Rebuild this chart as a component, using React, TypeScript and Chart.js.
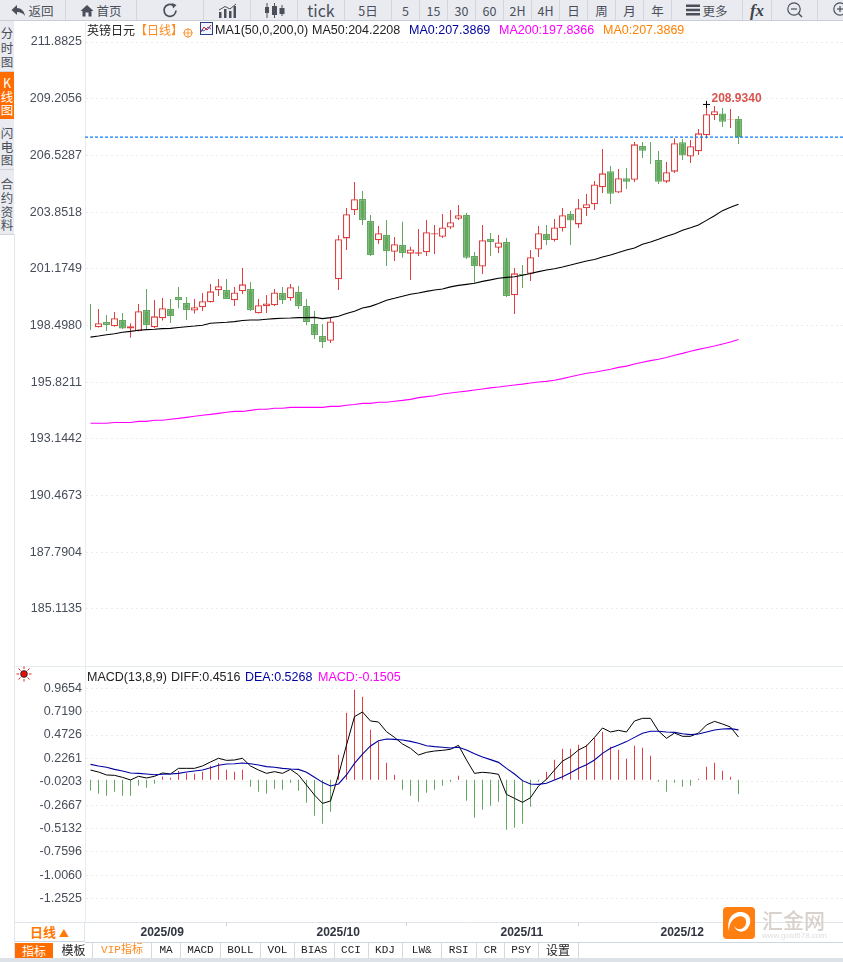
import React, { useEffect, useRef } from "react";
import { Chart, registerables } from "chart.js";

Chart.register(...registerables);

const opens = [198.69,198.41,198.66,198.46,198.76,198.36,198.24,199.23,198.41,198.84,199.28,199.84,199.56,199.2,199.36,199.59,200.16,200.17,199.69,200.11,200.22,199.07,199.4,199.45,200.03,199.78,200.08,199.42,198.57,198,197.78,200.68,202.61,203.94,204.47,203.43,202.52,202.77,201.98,202.3,201.89,201.89,201.95,202.79,202.69,203.12,203.54,203.72,201.78,201.28,202.58,202.17,202.44,199.92,200.93,200.94,202.08,202.82,202.53,203.09,203.76,203.27,204.03,204.22,205.02,205.78,204.78,205.45,205.38,206.97,206.67,206.31,205.29,205.76,207.15,206.48,206.72,207.48,208.42,208.51,208.22,208.25];
const highs = [199.51,199.28,198.99,199.14,199.09,198.6,199.51,200.22,199.7,199.8,199.75,200.32,199.84,199.75,200.03,200.46,200.69,200.69,200.32,201.21,200.55,199.75,199.94,200.22,200.32,200.46,200.36,199.75,199.18,198.57,198.9,202.76,204.05,205.27,204.85,203.72,203.2,203.48,202.68,203.39,202.21,203.05,203.48,203.24,203.76,203.95,204.19,203.81,201.97,203.24,202.87,202.77,202.63,201.21,201.35,202.06,203.2,203.24,203.53,204.05,203.9,204.47,204.71,205.32,206.83,206.03,205.89,205.93,207.16,207.16,207.16,206.74,206.22,207.33,207.3,207.26,207.78,208.934,208.86,208.77,208.72,208.39];
const lows = [198.28,198.4,198.24,198.44,198.33,197.92,198.21,198.33,198.38,198.73,198.62,199.31,198.76,199.06,199.18,199.58,199.89,199.75,199.42,199.98,199.18,199.06,199.09,199.42,199.51,199.67,199.28,198.52,197.86,197.44,197.67,200.17,202.06,203.72,203.24,201.78,202.36,201.31,201.54,201.69,200.65,201.78,201.78,201.87,202.63,203.05,203.48,201.64,200.49,200.93,201.78,201.92,199.84,199.04,200.27,200.6,201.73,202.3,202.46,202.93,202.3,203.1,203.67,203.95,204.75,204.23,204.75,204.94,205.27,206.41,206.12,205.18,205.23,205.7,206.31,206.17,206.55,207.33,208.2,207.87,207.82,207.07];
const closes = [198.68,198.6,198.52,198.84,198.35,198.46,199.17,198.52,198.93,199.31,198.95,199.7,199.23,199.36,199.64,200.11,200.35,199.75,200.06,200.44,199.23,199.45,199.54,200.06,199.7,200.3,199.42,198.66,198.05,197.72,198.69,202.57,203.75,204.46,203.48,201.83,202.85,202.02,202.33,201.92,202.09,201.95,202.9,202.85,203.13,203.37,203.7,201.69,201.31,202.52,202.44,202.42,199.89,200.96,200.87,201.72,202.85,202.53,203.13,203.7,203.45,204.03,204.22,205.16,205.68,204.72,205.45,205.29,207.05,206.75,206.66,205.29,205.73,207.1,206.52,206.96,207.57,208.47,208.61,208.12,208.25,207.3869];
const ma50 = [197.95,198,198.06,198.11,198.18,198.22,198.27,198.3,198.32,198.35,198.36,198.4,198.44,198.47,198.51,198.6,198.63,198.65,198.68,198.73,198.76,198.76,198.79,198.82,198.84,198.85,198.87,198.87,198.88,198.82,198.87,198.93,199.06,199.17,199.32,199.4,199.54,199.69,199.78,199.88,199.97,200.03,200.11,200.17,200.22,200.32,200.39,200.44,200.49,200.58,200.65,200.73,200.77,200.8,200.87,200.95,201.04,201.12,201.18,201.26,201.35,201.45,201.54,201.61,201.73,201.83,201.94,202.06,202.16,202.33,202.44,202.57,202.71,202.83,202.99,203.11,203.24,203.46,203.68,203.92,204.08,204.2208];
const ma200 = [193.88,193.88,193.88,193.92,193.92,193.92,193.97,193.97,194.02,194.02,194.07,194.11,194.16,194.21,194.26,194.3,194.35,194.4,194.44,194.44,194.49,194.54,194.54,194.59,194.59,194.63,194.63,194.63,194.63,194.63,194.68,194.68,194.73,194.77,194.82,194.82,194.87,194.87,194.92,194.96,195.01,195.09,195.14,195.18,195.26,195.31,195.36,195.4,195.45,195.5,195.55,195.59,195.64,195.69,195.73,195.78,195.83,195.86,195.91,195.99,196.08,196.16,196.24,196.29,196.36,196.43,196.52,196.58,196.68,196.76,196.84,196.9,196.99,197.09,197.18,197.28,197.37,197.45,197.53,197.62,197.72,197.8366];
const macdHist = [-0.113,-0.148,-0.169,-0.127,-0.169,-0.169,-0.063,-0.084,-0.042,0.035,0.021,0.092,0.07,0.063,0.084,0.148,0.176,0.106,0.084,0.106,-0.074,-0.127,-0.148,-0.095,-0.106,-0.032,-0.116,-0.243,-0.38,-0.465,-0.338,0.264,0.708,0.95,0.876,0.528,0.401,0.18,0.053,-0.106,-0.169,-0.232,-0.137,-0.106,-0.063,-0.021,0.042,-0.222,-0.401,-0.317,-0.275,-0.232,-0.528,-0.507,-0.465,-0.285,-0.021,0.084,0.211,0.327,0.327,0.37,0.37,0.444,0.507,0.348,0.317,0.222,0.359,0.338,0.253,-0.021,-0.127,-0.032,-0.074,-0.063,0.011,0.137,0.18,0.095,0.032,-0.1505];
const diff = [0.103,0.082,0.051,0.047,0.026,-0.002,0.037,0.019,0.037,0.072,0.061,0.121,0.121,0.121,0.146,0.188,0.227,0.205,0.209,0.227,0.146,0.103,0.068,0.086,0.068,0.11,0.051,-0.055,-0.161,-0.249,-0.224,0.051,0.367,0.667,0.716,0.621,0.61,0.508,0.448,0.378,0.332,0.262,0.29,0.304,0.311,0.322,0.364,0.209,0.068,0.079,0.072,0.058,-0.154,-0.196,-0.238,-0.189,-0.066,0.005,0.103,0.198,0.244,0.315,0.357,0.448,0.547,0.505,0.522,0.505,0.621,0.649,0.649,0.515,0.438,0.494,0.459,0.459,0.494,0.579,0.617,0.589,0.557,0.4516];
const dea = [0.163,0.146,0.132,0.11,0.093,0.072,0.068,0.061,0.054,0.058,0.061,0.068,0.082,0.093,0.103,0.128,0.153,0.167,0.17,0.177,0.17,0.156,0.139,0.132,0.121,0.114,0.11,0.079,0.026,-0.027,-0.066,-0.044,0.051,0.174,0.272,0.357,0.413,0.431,0.427,0.42,0.406,0.385,0.36,0.35,0.343,0.336,0.343,0.315,0.276,0.241,0.213,0.184,0.121,0.061,-0.009,-0.044,-0.048,-0.037,-0.002,0.033,0.075,0.121,0.16,0.209,0.279,0.332,0.367,0.403,0.448,0.491,0.512,0.512,0.505,0.501,0.487,0.477,0.484,0.505,0.526,0.536,0.54,0.5268];

const priceTicks = [211.8825,209.2056,206.5287,203.8518,201.1749,198.498,195.8211,193.1442,190.4673,187.7904,185.1135];
const macdTicks = [0.9654,0.719,0.4726,0.2261,-0.0203,-0.2667,-0.5132,-0.7596,-1.006,-1.2525];
const monthIndexes = [6,28,51,71];
const monthLabels = ["2025/09","2025/10","2025/11","2025/12"];
const lastPrice = 207.3869;
const highestIndex = 77;
const highestValue = 208.934;

const RED = "#df3f3f";
const GREEN = "#62a85e";
const NUM_FONT = '"Liberation Sans", Arial, sans-serif';
const CJK_FONT = '"Noto Sans CJK SC", "Liberation Sans", sans-serif';
const TAB_FONT = '"Liberation Mono", "Noto Sans CJK SC", monospace';
const X_MIN = -0.6875;
const X_MAX = 94.0625;

const pts = (arr: number[]) => arr.map((y, x) => ({ x, y }));

const sharedY = (ticksArr: number[], min: number, max: number) => ({
  type: "linear",
  min,
  max,
  afterFit: (s: any) => { s.width = 85; s.paddingTop = 0; s.paddingBottom = 0; },
  afterBuildTicks: (s: any) => { s.ticks = ticksArr.map((value) => ({ value })); },
  grid: { color: "#ececec", drawTicks: false },
  border: { color: "#e9edf0", dash: [2, 3] },
  ticks: {
    autoSkip: false,
    padding: 3,
    color: "#474d5a",
    font: { family: NUM_FONT, size: 12.5 },
    callback: (v: any) => Number(v).toFixed(4),
  },
});

const topLabelPlugin = {
  id: "highLabel",
  afterDatasetsDraw(chart: any) {
    const { ctx, scales } = chart;
    ctx.save();
    ctx.fillStyle = "#d9534f";
    ctx.font = `bold 12px ${NUM_FONT}`;
    ctx.textAlign = "left";
    ctx.textBaseline = "middle";
    ctx.fillText(highestValue.toFixed(4), scales.x.getPixelForValue(highestIndex) + 5, scales.y.getPixelForValue(highestValue) - 6);
    ctx.restore();
  },
};

type Cell = { l: number; w: number; t?: string; icon?: string };
const toolbar: Cell[] = [
  { l: 0, w: 66, t: "返回", icon: "back" },
  { l: 66, w: 71, t: "首页", icon: "home" },
  { l: 137, w: 67, icon: "refresh" },
  { l: 204, w: 47, icon: "bars" },
  { l: 251, w: 47, icon: "candles" },
  { l: 298, w: 47, t: "tick" },
  { l: 345, w: 47, t: "5日" },
  { l: 392, w: 28, t: "5" },
  { l: 420, w: 28, t: "15" },
  { l: 448, w: 28, t: "30" },
  { l: 476, w: 28, t: "60" },
  { l: 504, w: 28, t: "2H" },
  { l: 532, w: 28, t: "4H" },
  { l: 560, w: 28, t: "日" },
  { l: 588, w: 28, t: "周" },
  { l: 616, w: 28, t: "月" },
  { l: 644, w: 28, t: "年" },
  { l: 672, w: 71, t: "更多", icon: "menu" },
  { l: 743, w: 29, icon: "fx" },
  { l: 772, w: 46, icon: "minus" },
  { l: 818, w: 46, icon: "plus" },
];

const tabs: [number, number, string][] = [
  [55,38,"模板"],[93,59,"VIP指标"],[152,29,"MA"],[181,40,"MACD"],[221,40,"BOLL"],[261,34,"VOL"],[295,39.5,"BIAS"],[334.5,34,"CCI"],[368.5,34,"KDJ"],[402.5,39.5,"LW&"],[442,34.5,"RSI"],[476.5,28.5,"CR"],[505,33.5,"PSY"],[538.5,40,"设置"],
];

const sideItems: { chars: string[]; ys: number[]; orange?: boolean; top: number; h: number }[] = [
  { chars: ["分","时","图"], ys: [33,48,62], top: 21, h: 50 },
  { chars: ["K","线","图"], ys: [83,97,110], orange: true, top: 72, h: 47 },
  { chars: ["闪","电","图"], ys: [133,147,160], top: 121, h: 48 },
  { chars: ["合","约","资","料"], ys: [184,198,212,225], top: 171, h: 63 },
];

const Icon = ({ name }: { name: string }) => {
  const c = "#4a4f59";
  const s = { display: "block" } as React.CSSProperties;
  if (name === "back") return <svg width="15" height="13" style={s}><path d="M6 1 L0.5 6 L6 11 V8 C9 8 12 9 14 12 C13.5 7 10 4 6 4 Z" fill={c}/></svg>;
  if (name === "home") return <svg width="14" height="13" style={s}><path d="M7 1 L0.5 7 H2.5 V12.5 H5.5 V8.5 H8.5 V12.5 H11.5 V7 H13.5 Z" fill={c}/></svg>;
  if (name === "refresh") return <svg width="17" height="17" style={s}><path d="M14 8.5 A6 6 0 1 1 11.5 3.5" fill="none" stroke={c} strokeWidth="1.7"/><path d="M10 1 L14.5 3 L11 6.5 Z" fill={c}/></svg>;
  if (name === "bars") return <svg width="19" height="15" style={s}><path d="M1 9h2.5v6H1zM6 6h2.5v9H6zM11 8h2.5v7H11zM15.5 3H18v12h-2.5z" fill={c}/><path d="M1 7 L7 3.5 L12 6 L18 1" fill="none" stroke={c} strokeWidth="1"/></svg>;
  if (name === "candles") return <svg width="21" height="15" style={s}><path d="M3 0v15M10.5 0v15M18 2v11" stroke={c} strokeWidth="1"/><path d="M1 4h4v6H1zM8 3h5v9H8zM15.500 5h5v6h-5z" fill={c}/></svg>;
  if (name === "menu") return <svg width="14" height="12" style={s}><path d="M0 0.500h14v2.400H0zM0 4.800h14v2.400H0zM0 9.100h14v2.400H0z" fill={c}/></svg>;
  if (name === "fx") return <span style={{ fontFamily: '"Liberation Serif", serif', fontWeight: 700, fontStyle: "italic", fontSize: 17, color: "#3f444d", lineHeight: "17px" }}>fx</span>;
  return (
    <svg width="18" height="18" style={s}>
      <circle cx="8" cy="8" r="6.200" fill="none" stroke={c} strokeWidth="1.200"/>
      <path d="M12.500 12.500 L16 16" stroke={c} strokeWidth="1.400"/>
      <path d="M5 8h6" stroke={c} strokeWidth="1.200"/>
      {name === "plus" && <path d="M8 5v6" stroke={c} strokeWidth="1.200"/>}
    </svg>
  );
};

const Txt = ({ x, y, c, f, size, w, children }: any) => (
  <span style={{ position: "absolute", left: x, top: y, transform: "translateY(-50%)", color: c || "#222", fontFamily: f || NUM_FONT, fontSize: size || 12.5, fontWeight: w || 400, whiteSpace: "nowrap", lineHeight: 1 }}>{children}</span>
);

export default function App() {
  const priceRef = useRef<HTMLCanvasElement>(null);
  const macdRef = useRef<HTMLCanvasElement>(null);

  useEffect(() => {
    const up = closes.map((c, i) => c >= opens[i]);
    const sharedX = { type: "linear", min: X_MIN, max: X_MAX, display: false, offset: false };
    const priceChart = new Chart(priceRef.current as any, {
      type: "bar",
      data: {
        datasets: [
          { type: "line", data: [{ x: X_MIN, y: lastPrice }, { x: X_MAX, y: lastPrice }], borderColor: "#0a7cff", borderWidth: 1.3, borderDash: [3, 2], pointRadius: 0, order: 1 },
          { type: "line", data: pts(ma50), borderColor: "#000", borderWidth: 1.1, pointRadius: 0, tension: 0, order: 2 },
          { type: "line", data: pts(ma200), borderColor: "#ff00ff", borderWidth: 1.1, pointRadius: 0, tension: 0, order: 2 },
          { type: "line", data: [{ x: highestIndex, y: highestValue }], showLine: false, pointStyle: "cross", pointRadius: 3.5, pointBorderColor: "#000", pointBorderWidth: 1, order: 0 },
          { type: "bar", data: opens.map((o, x) => ({ x, y: [o, closes[x]] })), barThickness: 7, grouped: false, borderWidth: 1.3, borderSkipped: false, inflateAmount: 0, borderColor: up.map((u) => (u ? RED : GREEN)), backgroundColor: up.map((u) => (u ? "#fff" : GREEN)), order: 3 },
          { type: "bar", data: lows.map((l, x) => ({ x, y: [l, highs[x]] })), barThickness: 1, grouped: false, borderWidth: 0, inflateAmount: 0, backgroundColor: up.map((u) => (u ? RED : GREEN)), order: 4 },
        ] as any,
      },
      options: {
        responsive: false,
        animation: false,
        events: [],
        layout: { padding: 0, autoPadding: false },
        plugins: { legend: { display: false }, tooltip: { enabled: false } },
        scales: { x: sharedX, y: sharedY(priceTicks, 182.42, 212.827) } as any,
      } as any,
      plugins: [topLabelPlugin],
    });

    const macdChart = new Chart(macdRef.current as any, {
      type: "bar",
      data: {
        datasets: [
          { type: "line", data: pts(diff), borderColor: "#000", borderWidth: 1, pointRadius: 0, tension: 0, order: 1 },
          { type: "line", data: pts(dea), borderColor: "#0000a0", borderWidth: 1.1, pointRadius: 0, tension: 0, order: 0 },
          { type: "bar", data: pts(macdHist), barThickness: 1, grouped: false, borderWidth: 0, inflateAmount: 0, backgroundColor: macdHist.map((v) => (v >= 0 ? RED : GREEN)), order: 2 },
        ] as any,
      },
      options: {
        responsive: false,
        animation: false,
        events: [],
        layout: { padding: 0, autoPadding: false },
        plugins: { legend: { display: false }, tooltip: { enabled: false } },
        scales: {
          x: {
            type: "linear",
            min: X_MIN,
            max: X_MAX,
            offset: false,
            afterFit: (s: any) => { s.height = 20; },
            afterBuildTicks: (s: any) => { s.ticks = monthIndexes.map((value) => ({ value })); },
            grid: { drawOnChartArea: false, drawTicks: true, tickLength: 4, color: "#c9d1d8" },
            border: { color: "#dfe5ea" },
            ticks: {
              autoSkip: false,
              maxRotation: 0,
              align: "start",
              labelOffset: 2,
              padding: -1,
              color: "#2f3440",
              font: { family: NUM_FONT, size: 12, weight: "bold" },
              callback: (v: any) => monthLabels[monthIndexes.indexOf(Number(v))],
            },
          },
          y: sharedY(macdTicks, -1.5016, 1.191),
        } as any,
      } as any,
    });
    return () => {
      priceChart.destroy();
      macdChart.destroy();
    };
  }, []);

  return (
    <div style={{ position: "fixed", left: 0, top: 0, width: 843, height: 962, overflow: "hidden", background: "#fff" }}>
      <canvas ref={priceRef} width={843} height={644} style={{ position: "absolute", left: 0, top: 22, width: 843, height: 644 }} />
      <canvas ref={macdRef} width={843} height={275} style={{ position: "absolute", left: 0, top: 667, width: 843, height: 275 }} />

      {/* top toolbar */}
      <div style={{ position: "absolute", left: 0, top: 0, width: 843, height: 20, background: "#e9ebf1", borderBottom: "1px solid #c9cdd6" }} />
      {toolbar.map((b, i) => (
        <div key={i} style={{ position: "absolute", left: b.l, top: 0, width: b.w, height: 20, borderRight: "1px solid #d3d6dd", boxSizing: "border-box", display: "flex", alignItems: "center", justifyContent: "center", gap: 2, color: "#4a4f59", fontFamily: CJK_FONT, fontSize: b.t === "tick" ? 16 : 12.5, whiteSpace: "nowrap" }}>
          {b.icon && <Icon name={b.icon} />}
          {b.t && <span>{b.t}</span>}
        </div>
      ))}

      {/* side tabs */}
      <div style={{ position: "absolute", left: 0, top: 21, width: 14, height: 213, background: "#e9ebf1" }} />
      {sideItems.map((it, i) => (
        <React.Fragment key={i}>
          {it.orange && <div style={{ position: "absolute", left: 0, top: it.top, width: 14, height: it.h, background: "#ff6d00" }} />}
          {!it.orange && <div style={{ position: "absolute", left: 0, top: it.top + it.h, width: 14, height: 1, background: "#cfd4dc" }} />}
          {it.chars.map((ch, j) => (
            <span key={j} style={{ position: "absolute", left: 0, width: 14, top: it.ys[j], transform: "translateY(-50%)", textAlign: "center", lineHeight: 1, fontFamily: CJK_FONT, fontSize: 12.5, color: it.orange ? "#fff" : "#4a4f59" }}>{ch}</span>
          ))}
        </React.Fragment>
      ))}
      <div style={{ position: "absolute", left: 14, top: 234, width: 1, height: 728, background: "#dfe6ec" }} />
      <div style={{ position: "absolute", left: 15, top: 666, width: 828, height: 1, background: "#e6edf0" }} />

      {/* price legend */}
      <Txt x={87} y={30} f={CJK_FONT} size={12}>英镑日元</Txt>
      <Txt x={135} y={30} f={CJK_FONT} size={12} c="#ff8a1e">【日线】</Txt>
      <svg width="10" height="10" style={{ position: "absolute", left: 183, top: 28 }}>
        <circle cx="5" cy="5" r="4" fill="none" stroke="#ff8a1e" strokeWidth="0.900" />
        <path d="M0 5h10M5 0v10" stroke="#ff8a1e" strokeWidth="0.800" />
      </svg>
      <svg width="13" height="13" style={{ position: "absolute", left: 200, top: 22 }}>
        <rect x="0.500" y="0.500" width="12" height="12" fill="#f4f6ff" stroke="#2b3f8f" />
        <path d="M1 10 L4 5 L7 8 L11 3" fill="none" stroke="#d02020" strokeWidth="1" />
        <path d="M1 8 L4 9 L8 5 L11 7" fill="none" stroke="#2040c0" strokeWidth="0.800" />
      </svg>
      <Txt x={215} y={30}>MA1(50,0,200,0)</Txt>
      <Txt x={312} y={30}>MA50:204.2208</Txt>
      <Txt x={409} y={30} c="#0000a0">MA0:207.3869</Txt>
      <Txt x={499} y={30} c="#ff00ff">MA200:197.8366</Txt>
      <Txt x={603} y={30} c="#ff8000">MA0:207.3869</Txt>

      {/* macd legend */}
      <svg width="16" height="16" style={{ position: "absolute", left: 16, top: 666 }}>
        <circle cx="8" cy="8" r="3.400" fill="#e01010" stroke="#222" strokeWidth="0.800" />
        <path d="M8 0.500v2.500M8 13v2.500M0.500 8h2.500M13 8h2.500M2.500 2.500l2 2M11.500 11.500l2 2M13.500 2.500l-2 2M4.500 11.500l-2 2" stroke="#e01010" strokeWidth="0.900" />
      </svg>
      <Txt x={87} y={677} c="#222">MACD(13,8,9)</Txt>
      <Txt x={171} y={677} c="#222">DIFF:0.4516</Txt>
      <Txt x={245} y={677} c="#0000a0">DEA:0.5268</Txt>
      <Txt x={318} y={677} c="#ff00ff">MACD:-0.1505</Txt>

      {/* period cell */}
      <div style={{ position: "absolute", left: 15, top: 922, width: 70, height: 20, background: "#fff", borderTop: "1px solid #dfe5ea", borderRight: "1px solid #dfe5ea", borderBottom: "1px solid #cfd6dd", boxSizing: "border-box", textAlign: "center", color: "#ff7a00", fontFamily: CJK_FONT, fontSize: 13, fontWeight: 700, lineHeight: "18px" }}>日线 <span style={{ fontSize: 10 }}>▲</span></div>
      <div style={{ position: "absolute", left: 85, top: 942, width: 758, height: 1, background: "#cfd6dd" }} />

      {/* tab bar */}
      <div style={{ position: "absolute", left: 15, top: 943, width: 38, height: 15, background: "#ff6d00", color: "#fff", fontFamily: CJK_FONT, fontSize: 12, textAlign: "center", lineHeight: "15px" }}>指标</div>
      {tabs.map(([l, w, t], i) => {
        const big = t === "模板" || t === "设置";
        return (
          <div key={i} style={{ position: "absolute", left: l, top: 943, width: w, height: 15, boxSizing: "border-box", borderRight: "1px solid #d4dae2", textAlign: "center", lineHeight: big ? "19px" : "15px", fontFamily: TAB_FONT, fontSize: big ? 12 : 11, color: t === "VIP指标" ? "#ff8a1e" : "#222" }}>{t}</div>
        );
      })}
      <div style={{ position: "absolute", left: 0, top: 958, width: 843, height: 4, background: "#dde1e8" }} />

      {/* watermark */}
      <svg width="32" height="32" style={{ position: "absolute", left: 723, top: 907 }}>
        <rect width="32" height="32" rx="4" fill="#ff7f11" />
        <path d="M6 24 C3 12 10 4 19 5 C27 6 29 14 26 19 C23 26 14 27 11 19 C14 24 22 23 23 16 C24 11 19 8 14 10 C9 12 6 17 6 24 Z" fill="#fff" />
      </svg>
      <Txt x={762} y={919} f={CJK_FONT} size={21} c="#d9d1cb" w={500}>汇金网</Txt>
      <Txt x={762} y={936} size={8} c="#dcdcdc">www.gold678.com</Txt>
    </div>
  );
}
